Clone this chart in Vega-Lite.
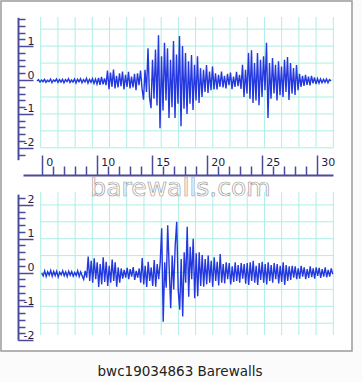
{
  "$schema": "https://vega.github.io/schema/vega-lite/v6.json",
  "width": 351,
  "height": 350,
  "autosize": {"type": "none"},
  "padding": {"left": 1, "top": 1, "right": 10, "bottom": 31},
  "background": "#fbfbfb",
  "title": {"text": "bwc19034863 Barewalls", "orient": "bottom", "anchor": "middle", "baseline": "top", "offset": 14, "font": "DejaVu Sans", "fontSize": 13.5, "fontWeight": "normal", "color": "#222222", "dx": 3.5},
  "config": {
    "view": {"fill": "#ffffff", "stroke": "#9a9a9a", "strokeWidth": 1.5},
    "axis": {"domainColor": "#4b4b9e", "domainWidth": 2, "tickColor": "#4b4b9e", "tickWidth": 1.5, "labelFont": "DejaVu Sans", "labelFontSize": 11, "labelColor": "#1e1e44", "grid": false, "labelOverlap": false, "labelBound": false, "labelFlush": false}
  },
  "datasets": {
    "gridX": [{"gx":0},{"gx":1},{"gx":2},{"gx":3},{"gx":4},{"gx":5},{"gx":6},{"gx":7},{"gx":8},{"gx":9},{"gx":10},{"gx":11},{"gx":12},{"gx":13},{"gx":14},{"gx":15},{"gx":16},{"gx":17}],
    "gridYTop": [{"gy":-2},{"gy":-1.5},{"gy":-1},{"gy":-0.5},{"gy":0},{"gy":0.5},{"gy":1},{"gy":1.5}],
    "gridYBot": [{"gy":-1.5},{"gy":-1},{"gy":-0.5},{"gy":0},{"gy":0.5},{"gy":1},{"gy":1.5},{"gy":2}],
    "watermark": [{"label": "barewalls.com"}],
    "top": [
      {"i":0,"v":-0.03},{"i":1,"v":0.01},{"i":2,"v":-0.06},{"i":3,"v":0.0},{"i":4,"v":-0.05},{"i":5,"v":0.02},{"i":6,"v":-0.07},{"i":7,"v":-0.01},{"i":8,"v":-0.05},{"i":9,"v":0.03},
      {"i":10,"v":-0.08},{"i":11,"v":0.0},{"i":12,"v":-0.04},{"i":13,"v":0.03},{"i":14,"v":-0.07},{"i":15,"v":0.01},{"i":16,"v":-0.06},{"i":17,"v":0.02},{"i":18,"v":-0.08},{"i":19,"v":0.01},
      {"i":20,"v":-0.05},{"i":21,"v":0.04},{"i":22,"v":-0.07},{"i":23,"v":0.0},{"i":24,"v":-0.06},{"i":25,"v":0.03},{"i":26,"v":-0.09},{"i":27,"v":0.02},{"i":28,"v":-0.05},{"i":29,"v":0.04},
      {"i":30,"v":-0.08},{"i":31,"v":0.01},{"i":32,"v":-0.06},{"i":33,"v":0.05},{"i":34,"v":-0.09},{"i":35,"v":0.02},{"i":36,"v":-0.07},{"i":37,"v":0.04},{"i":38,"v":-0.1},{"i":39,"v":0.03},
      {"i":40,"v":-0.12},{"i":41,"v":0.06},{"i":42,"v":-0.14},{"i":43,"v":0.09},{"i":44,"v":-0.13},{"i":45,"v":0.05},{"i":46,"v":-0.15},{"i":47,"v":0.28},{"i":48,"v":-0.27},{"i":49,"v":0.22},
      {"i":50,"v":-0.2},{"i":51,"v":0.31},{"i":52,"v":-0.25},{"i":53,"v":0.12},{"i":54,"v":-0.22},{"i":55,"v":0.2},{"i":56,"v":-0.18},{"i":57,"v":0.25},{"i":58,"v":-0.28},{"i":59,"v":0.15},
      {"i":60,"v":-0.2},{"i":61,"v":0.24},{"i":62,"v":-0.25},{"i":63,"v":0.1},{"i":64,"v":-0.22},{"i":65,"v":0.18},{"i":66,"v":-0.3},{"i":67,"v":0.2},{"i":68,"v":-0.15},{"i":69,"v":0.28},
      {"i":70,"v":-0.24},{"i":71,"v":-0.58},{"i":72,"v":0.3},{"i":73,"v":-0.35},{"i":74,"v":0.94},{"i":75,"v":-0.5},{"i":76,"v":-0.83},{"i":77,"v":0.6},{"i":78,"v":-0.55},{"i":79,"v":0.9},
      {"i":80,"v":-0.75},{"i":81,"v":1.32},{"i":82,"v":-1.42},{"i":83,"v":0.7},{"i":84,"v":-0.9},{"i":85,"v":1.1},{"i":86,"v":-0.6},{"i":87,"v":0.94},{"i":88,"v":-1.12},{"i":89,"v":0.6},
      {"i":90,"v":-0.8},{"i":91,"v":1.15},{"i":92,"v":-1.12},{"i":93,"v":0.75},{"i":94,"v":-0.7},{"i":95,"v":1.3},{"i":96,"v":-1.36},{"i":97,"v":1.0},{"i":98,"v":-0.85},{"i":99,"v":0.8},
      {"i":100,"v":-1.0},{"i":101,"v":0.55},{"i":102,"v":-0.7},{"i":103,"v":0.74},{"i":104,"v":-0.88},{"i":105,"v":0.45},{"i":106,"v":-0.6},{"i":107,"v":0.7},{"i":108,"v":-0.68},{"i":109,"v":0.35},
      {"i":110,"v":-0.5},{"i":111,"v":0.3},{"i":112,"v":-0.35},{"i":113,"v":0.44},{"i":114,"v":-0.38},{"i":115,"v":0.25},{"i":116,"v":-0.3},{"i":117,"v":0.4},{"i":118,"v":-0.28},{"i":119,"v":0.2},
      {"i":120,"v":-0.28},{"i":121,"v":0.15},{"i":122,"v":-0.2},{"i":123,"v":0.25},{"i":124,"v":-0.22},{"i":125,"v":0.12},{"i":126,"v":-0.25},{"i":127,"v":0.18},{"i":128,"v":-0.15},{"i":129,"v":0.22},
      {"i":130,"v":-0.27},{"i":131,"v":0.1},{"i":132,"v":-0.2},{"i":133,"v":0.24},{"i":134,"v":-0.18},{"i":135,"v":0.15},{"i":136,"v":-0.26},{"i":137,"v":0.45},{"i":138,"v":-0.5},{"i":139,"v":0.3},
      {"i":140,"v":-0.4},{"i":141,"v":0.8},{"i":142,"v":-0.55},{"i":143,"v":0.88},{"i":144,"v":-0.68},{"i":145,"v":0.5},{"i":146,"v":-0.6},{"i":147,"v":0.8},{"i":148,"v":-0.74},{"i":149,"v":0.6},
      {"i":150,"v":-0.5},{"i":151,"v":0.7},{"i":152,"v":-0.3},{"i":153,"v":1.1},{"i":154,"v":-1.12},{"i":155,"v":0.5},{"i":156,"v":-0.55},{"i":157,"v":0.65},{"i":158,"v":-0.4},{"i":159,"v":0.45},
      {"i":160,"v":-0.6},{"i":161,"v":0.55},{"i":162,"v":-0.45},{"i":163,"v":0.4},{"i":164,"v":-0.5},{"i":165,"v":0.6},{"i":166,"v":-0.35},{"i":167,"v":0.68},{"i":168,"v":-0.59},{"i":169,"v":0.5},
      {"i":170,"v":-0.4},{"i":171,"v":0.35},{"i":172,"v":-0.44},{"i":173,"v":0.44},{"i":174,"v":-0.3},{"i":175,"v":0.18},{"i":176,"v":-0.2},{"i":177,"v":0.12},{"i":178,"v":-0.17},{"i":179,"v":0.15},
      {"i":180,"v":-0.14},{"i":181,"v":0.1},{"i":182,"v":-0.16},{"i":183,"v":0.12},{"i":184,"v":-0.1},{"i":185,"v":0.08},{"i":186,"v":-0.12},{"i":187,"v":0.04},{"i":188,"v":-0.09},{"i":189,"v":0.03},
      {"i":190,"v":-0.08},{"i":191,"v":0.02},{"i":192,"v":-0.07},{"i":193,"v":0.03},{"i":194,"v":-0.08},{"i":195,"v":0.01},{"i":196,"v":-0.03}
    ],
    "bottom": [
      {"i":0,"v":-0.02},{"i":1,"v":-0.1},{"i":2,"v":0.05},{"i":3,"v":-0.12},{"i":4,"v":0.02},{"i":5,"v":-0.08},{"i":6,"v":0.06},{"i":7,"v":-0.11},{"i":8,"v":0.03},{"i":9,"v":-0.09},
      {"i":10,"v":0.04},{"i":11,"v":-0.13},{"i":12,"v":0.01},{"i":13,"v":-0.07},{"i":14,"v":0.05},{"i":15,"v":-0.1},{"i":16,"v":0.02},{"i":17,"v":-0.12},{"i":18,"v":0.04},{"i":19,"v":-0.08},
      {"i":20,"v":0.03},{"i":21,"v":-0.11},{"i":22,"v":0.0},{"i":23,"v":-0.09},{"i":24,"v":0.05},{"i":25,"v":-0.12},{"i":26,"v":0.02},{"i":27,"v":-0.1},{"i":28,"v":-0.2},{"i":29,"v":0.05},
      {"i":30,"v":-0.15},{"i":31,"v":0.47},{"i":32,"v":-0.25},{"i":33,"v":0.35},{"i":34,"v":-0.3},{"i":35,"v":0.42},{"i":36,"v":-0.2},{"i":37,"v":0.3},{"i":38,"v":-0.43},{"i":39,"v":0.25},
      {"i":40,"v":-0.35},{"i":41,"v":0.45},{"i":42,"v":-0.28},{"i":43,"v":0.32},{"i":44,"v":-0.4},{"i":45,"v":0.2},{"i":46,"v":-0.3},{"i":47,"v":0.38},{"i":48,"v":-0.25},{"i":49,"v":0.3},
      {"i":50,"v":-0.42},{"i":51,"v":0.15},{"i":52,"v":-0.3},{"i":53,"v":0.12},{"i":54,"v":-0.18},{"i":55,"v":0.08},{"i":56,"v":-0.15},{"i":57,"v":0.14},{"i":58,"v":-0.2},{"i":59,"v":0.1},
      {"i":60,"v":-0.12},{"i":61,"v":0.16},{"i":62,"v":-0.22},{"i":63,"v":0.05},{"i":64,"v":-0.15},{"i":65,"v":0.12},{"i":66,"v":-0.3},{"i":67,"v":0.43},{"i":68,"v":-0.35},{"i":69,"v":0.2},
      {"i":70,"v":-0.43},{"i":71,"v":0.32},{"i":72,"v":-0.25},{"i":73,"v":0.15},{"i":74,"v":-0.4},{"i":75,"v":0.37},{"i":76,"v":-0.42},{"i":77,"v":0.25},{"i":78,"v":-0.2},{"i":79,"v":0.3},
      {"i":80,"v":1.31},{"i":81,"v":-1.46},{"i":82,"v":0.3},{"i":83,"v":-0.45},{"i":84,"v":1.4},{"i":85,"v":0.1},{"i":86,"v":-1.06},{"i":87,"v":0.5},{"i":88,"v":-0.5},{"i":89,"v":0.8},
      {"i":90,"v":1.5},{"i":91,"v":-0.5},{"i":92,"v":-1.1},{"i":93,"v":0.4},{"i":94,"v":-1.3},{"i":95,"v":0.6},{"i":96,"v":-0.3},{"i":97,"v":1.35},{"i":98,"v":-0.72},{"i":99,"v":0.76},
      {"i":100,"v":-0.2},{"i":101,"v":1.0},{"i":102,"v":-0.76},{"i":103,"v":0.57},{"i":104,"v":-0.7},{"i":105,"v":0.6},{"i":106,"v":-0.4},{"i":107,"v":0.52},{"i":108,"v":-0.42},{"i":109,"v":0.4},
      {"i":110,"v":-0.35},{"i":111,"v":0.5},{"i":112,"v":-0.3},{"i":113,"v":0.35},{"i":114,"v":-0.42},{"i":115,"v":0.45},{"i":116,"v":-0.25},{"i":117,"v":0.32},{"i":118,"v":-0.38},{"i":119,"v":0.55},
      {"i":120,"v":-0.3},{"i":121,"v":0.25},{"i":122,"v":-0.32},{"i":123,"v":0.3},{"i":124,"v":-0.2},{"i":125,"v":0.28},{"i":126,"v":-0.35},{"i":127,"v":0.18},{"i":128,"v":-0.28},{"i":129,"v":0.3},
      {"i":130,"v":-0.25},{"i":131,"v":0.22},{"i":132,"v":-0.3},{"i":133,"v":0.28},{"i":134,"v":-0.18},{"i":135,"v":0.25},{"i":136,"v":-0.33},{"i":137,"v":0.28},{"i":138,"v":-0.37},{"i":139,"v":0.3},
      {"i":140,"v":-0.25},{"i":141,"v":0.35},{"i":142,"v":-0.3},{"i":143,"v":0.2},{"i":144,"v":-0.37},{"i":145,"v":0.28},{"i":146,"v":-0.22},{"i":147,"v":0.32},{"i":148,"v":-0.3},{"i":149,"v":0.25},
      {"i":150,"v":-0.35},{"i":151,"v":0.3},{"i":152,"v":-0.25},{"i":153,"v":0.22},{"i":154,"v":-0.3},{"i":155,"v":0.28},{"i":156,"v":-0.2},{"i":157,"v":0.25},{"i":158,"v":-0.32},{"i":159,"v":0.2},
      {"i":160,"v":-0.28},{"i":161,"v":0.3},{"i":162,"v":-0.37},{"i":163,"v":0.22},{"i":164,"v":-0.25},{"i":165,"v":0.18},{"i":166,"v":-0.22},{"i":167,"v":0.2},{"i":168,"v":-0.15},{"i":169,"v":0.18},
      {"i":170,"v":-0.2},{"i":171,"v":0.12},{"i":172,"v":-0.18},{"i":173,"v":0.2},{"i":174,"v":-0.12},{"i":175,"v":0.15},{"i":176,"v":-0.2},{"i":177,"v":0.1},{"i":178,"v":-0.16},{"i":179,"v":0.18},
      {"i":180,"v":-0.14},{"i":181,"v":0.12},{"i":182,"v":-0.18},{"i":183,"v":0.15},{"i":184,"v":-0.1},{"i":185,"v":0.14},{"i":186,"v":-0.16},{"i":187,"v":0.1},{"i":188,"v":-0.12},{"i":189,"v":0.15},
      {"i":190,"v":-0.14},{"i":191,"v":0.08},{"i":192,"v":-0.12},{"i":193,"v":0.12},{"i":194,"v":-0.05}
    ]
  },
  "resolve": {"scale": {"x": "independent", "y": "independent"}, "axis": {"x": "independent", "y": "independent"}},
  "layer": [
    {
      "data": {"name": "gridX"},
      "mark": {"type": "rule", "color": "#aeeee4", "strokeWidth": 1},
      "encoding": {
        "x": {"field": "gx", "type": "quantitative", "scale": {"domain": [0, 17], "range": [39.7, 332.3]}, "axis": null},
        "y": {"datum": 1.86, "type": "quantitative", "scale": {"domain": [-2.35, 1.85], "range": [158.7, 16.3]}, "axis": null},
        "y2": {"datum": -2}
      }
    },
    {
      "data": {"name": "gridYTop"},
      "mark": {"type": "rule", "color": "#aeeee4", "strokeWidth": 1},
      "encoding": {
        "y": {"field": "gy", "type": "quantitative", "scale": {"domain": [-2.35, 1.85], "range": [158.7, 16.3]}, "axis": null},
        "x": {"datum": 0, "type": "quantitative", "scale": {"domain": [0, 17], "range": [39.7, 332.3]}, "axis": null},
        "x2": {"datum": 17}
      }
    },
    {
      "data": {"name": "gridX"},
      "mark": {"type": "rule", "color": "#aeeee4", "strokeWidth": 1},
      "encoding": {
        "x": {"field": "gx", "type": "quantitative", "scale": {"domain": [0, 17], "range": [39.7, 332.3]}, "axis": null},
        "y": {"datum": 2.38, "type": "quantitative", "scale": {"domain": [-2, 2.32], "range": [339.1, 193.1]}, "axis": null},
        "y2": {"datum": -1.85}
      }
    },
    {
      "data": {"name": "gridYBot"},
      "mark": {"type": "rule", "color": "#aeeee4", "strokeWidth": 1},
      "encoding": {
        "y": {"field": "gy", "type": "quantitative", "scale": {"domain": [-2, 2.32], "range": [339.1, 193.1]}, "axis": null},
        "x": {"datum": 0, "type": "quantitative", "scale": {"domain": [0, 17], "range": [39.7, 332.3]}, "axis": null},
        "x2": {"datum": 17}
      }
    },
    {
      "data": {"name": "top"},
      "mark": {"type": "line", "color": "#2438e0", "strokeWidth": 1.4},
      "encoding": {
        "x": {"field": "i", "type": "quantitative", "scale": {"domain": [0, 196], "range": [36, 330]}, "axis": null},
        "y": {"field": "v", "type": "quantitative", "scale": {"domain": [-2.35, 1.85], "range": [158.7, 16.3]},
          "axis": {"orient": "right", "offset": -334, "title": null,
            "values": [-2.2,-2,-1.8,-1.6,-1.4,-1.2,-1,-0.8,-0.6,-0.4,-0.2,0,0.2,0.4,0.6,0.8,1,1.2,1.4,1.6,1.8],
            "tickSize": {"condition": {"test": "abs(datum.value - round(datum.value)) < 0.001", "value": 15}, "value": 7},
            "labelExpr": "abs(datum.value - round(datum.value)) < 0.001 ? '' + round(datum.value) : ''",
            "labelAlign": "right", "labelBaseline": "alphabetic", "labelPadding": 1, "labelOffset": -2}}
      }
    },
    {
      "data": {"name": "bottom"},
      "mark": {"type": "line", "color": "#2438e0", "strokeWidth": 1.4},
      "encoding": {
        "x": {"field": "i", "type": "quantitative", "scale": {"domain": [0, 194], "range": [40.7, 331.7]}, "axis": null},
        "y": {"field": "v", "type": "quantitative", "scale": {"domain": [-2, 2.32], "range": [339.1, 193.1]},
          "axis": {"orient": "right", "offset": -334, "title": null,
            "values": [-2,-1.8,-1.6,-1.4,-1.2,-1,-0.8,-0.6,-0.4,-0.2,0,0.2,0.4,0.6,0.8,1,1.2,1.4,1.6,1.8,2,2.2],
            "tickSize": {"condition": {"test": "abs(datum.value - round(datum.value)) < 0.001", "value": 15}, "value": 7},
            "labelExpr": "abs(datum.value - round(datum.value)) < 0.001 ? '' + round(datum.value) : ''",
            "labelAlign": "right", "labelBaseline": "alphabetic", "labelPadding": 1, "labelOffset": -2}}
      }
    },
    {
      "data": {"name": "watermark"},
      "mark": {"type": "text", "font": "DejaVu Sans", "fontSize": 25, "fill": "#ffffff", "fillOpacity": 0.7, "stroke": "#9c9c9c", "strokeWidth": 0.7, "align": "center", "baseline": "alphabetic"},
      "encoding": {
        "text": {"field": "label"},
        "x": {"datum": 17.62, "type": "quantitative", "scale": {"domain": [3.3, 31.48], "range": [22, 332]},
          "axis": {"orient": "top", "offset": -174, "title": null,
            "values": [5,6,7,8,9,10,11,12,13,14,15,16,17,18,19,20,21,22,23,24,25,26,27,28,29,30],
            "tickSize": {"condition": {"test": "datum.value % 5 === 0", "value": 20}, "value": 9},
            "labelExpr": "datum.value === 5 ? '0' : (datum.value % 5 === 0 ? '' + datum.value : '')",
            "labelAlign": "left", "labelBaseline": "alphabetic", "labelPadding": -10, "labelOffset": 4}},
        "y": {"datum": -3.42, "type": "quantitative", "scale": {"domain": [-2.35, 1.85], "range": [158.7, 16.3]}, "axis": null}
      }
    }
  ]
}
